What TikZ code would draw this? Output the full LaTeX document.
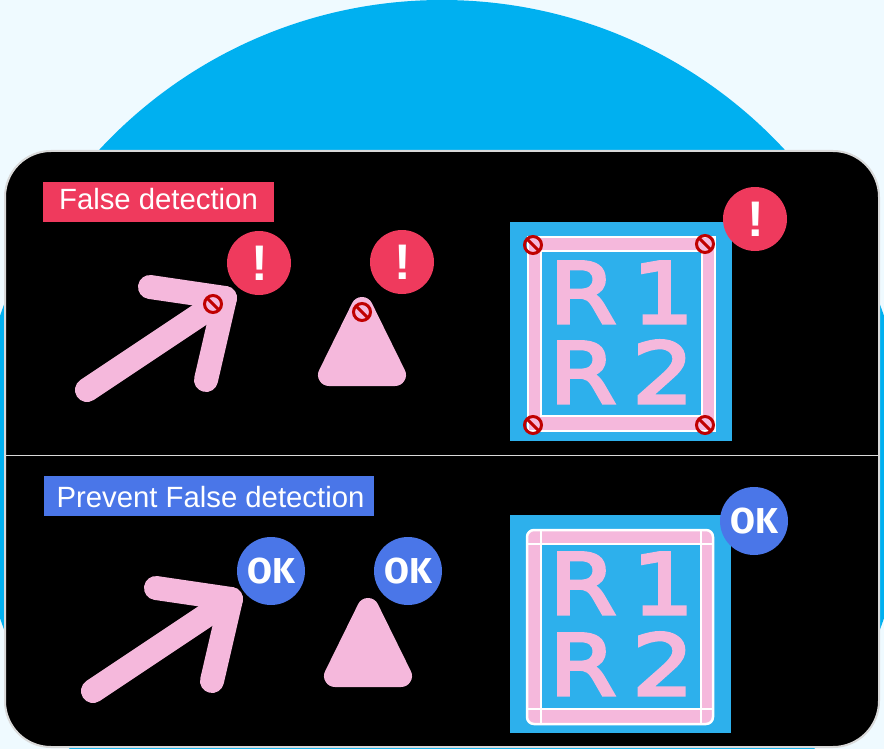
\documentclass[tikz,border=0pt]{standalone}
\usepackage{fontspec}
\setmainfont{Liberation Sans}
\newfontfamily\badgeokfont{Fira Sans}[BoldFont=* Bold]
\newfontfamily\pcbfont{DejaVu Sans}[FakeBold=4,FakeStretch=1.15]
\definecolor{bgpale}{HTML}{EFFAFF}
\definecolor{bigblue}{HTML}{00B0F0}
\definecolor{pinkfill}{HTML}{F5B8DC}
\definecolor{boardblue}{HTML}{2DB0EC}
\definecolor{alertred}{HTML}{EF3A5D}
\definecolor{okblue}{HTML}{4A76E8}
\definecolor{stopred}{HTML}{C00000}
\definecolor{edgegray}{HTML}{D9D9D9}
\tikzset{
  labelbox/.style={rectangle,inner sep=0pt,text=white,font=\fontsize{29.3}{32}\selectfont},
  alert/.style={circle,fill=alertred,minimum size=64pt,inner sep=0pt,text=white,font=\fontsize{50}{50}\selectfont\bfseries},
  okbadge/.style={circle,fill=okblue,minimum size=68pt,inner sep=0pt,text=white,font=\badgeokfont\fontsize{36}{36}\selectfont\bfseries},
  pinkarrow/.style={draw=pinkfill,line width=24pt,line cap=round,line join=round},
  pinktri/.style={draw=pinkfill,fill=pinkfill,line width=22pt,line join=round},
  pcbtext/.style={anchor=base west,inner sep=0pt,text=pinkfill,font=\pcbfont\fontsize{84}{84}\selectfont},
  stopmark/.style={draw=stopred,line width=3pt,circle,minimum size=17pt,inner sep=0pt,
    path picture={\draw[stopred,line width=3pt] (path picture bounding box.north west) -- (path picture bounding box.south east);}},
  thinwhite/.style={draw=white,line width=2pt}
}
\begin{document}
\begin{tikzpicture}[x=1pt,y=-1pt]
\useasboundingbox (0,0) rectangle (884,749);
\fill[bgpale] (0,0) rectangle (884,749);
\begin{scope}
\clip (0,0) rectangle (884,749);
\fill[bigblue] (442,467) circle (467);
\end{scope}
% panel
\draw[draw=edgegray,fill=black,line width=2pt,rounded corners=46pt] (5,151) rectangle (879,747);
\coordinate (divL) at (6,455);
\coordinate (divR) at (878,455);
\draw[edgegray,line width=1pt] (divL) -- (divR);
% labels
\node[labelbox,fill=alertred,minimum width=231pt,minimum height=40pt,text height=21pt,text depth=7pt] (lblfalse) at (158.5,202) {False detection};
\node[labelbox,fill=okblue,minimum width=330pt,minimum height=40pt,text height=25pt,text depth=3pt] (lblprevent) at (209,496) {\kern3pt Prevent False detection};
% top arrow + triangle
\draw[pinkarrow] (87,390) -- (225,298);
\draw[pinkarrow] (150,287) -- (225,298) -- (206,380);
\draw[pinktri] (329,375) -- (395,375) -- (362,308) -- cycle;
% top board
\fill[boardblue] (510,222) rectangle (732,441);
\draw[thinwhite,fill=pinkfill] (528,237) rectangle (715,431);
\draw[thinwhite,fill=boardblue] (541,251) rectangle (702,416);
\node[pcbtext] (r1a) at (549,323) {R\kern16pt 1};
\node[pcbtext] (r2a) at (549,403) {R\kern16pt 2};
% stop marks
\node[stopmark] (s1) at (213,304) {};
\node[stopmark] (s2) at (362,312) {};
\node[stopmark] (s3) at (533,245) {};
\node[stopmark] (s4) at (705,244) {};
\node[stopmark] (s5) at (533,425) {};
\node[stopmark] (s6) at (705,425) {};
% alert badges
\node[alert] (a1) at (259,263) {\kern1pt !};
\node[alert] (a2) at (402,262) {\kern1pt !};
\node[alert] (a3) at (755,219) {\kern1pt !};
% bottom arrow + triangle
\draw[pinkarrow] (93,691) -- (231,599);
\draw[pinkarrow] (156,588) -- (231,599) -- (212,681);
\draw[pinktri] (335,676) -- (401,676) -- (368,609) -- cycle;
% bottom board
\fill[boardblue] (510,515) rectangle (731,733);
\draw[draw=white,line width=2.5pt,fill=pinkfill,rounded corners=7pt] (527,530) rectangle (713,724);
\draw[thinwhite,fill=boardblue] (541,544) rectangle (701,709);
\draw[thinwhite] (541,530) -- (541,724);
\draw[thinwhite] (701,530) -- (701,724);
\draw[thinwhite] (527,544) -- (713,544);
\draw[thinwhite] (527,709) -- (713,709);
\node[pcbtext] (r1b) at (549,614) {R\kern16pt 1};
\node[pcbtext] (r2b) at (549,695) {R\kern16pt 2};
% OK badges
\node[okbadge] (o1) at (271,571) {OK};
\node[okbadge] (o2) at (408,571) {OK};
\node[okbadge] (o3) at (754,521) {OK};
\end{tikzpicture}
\end{document}
